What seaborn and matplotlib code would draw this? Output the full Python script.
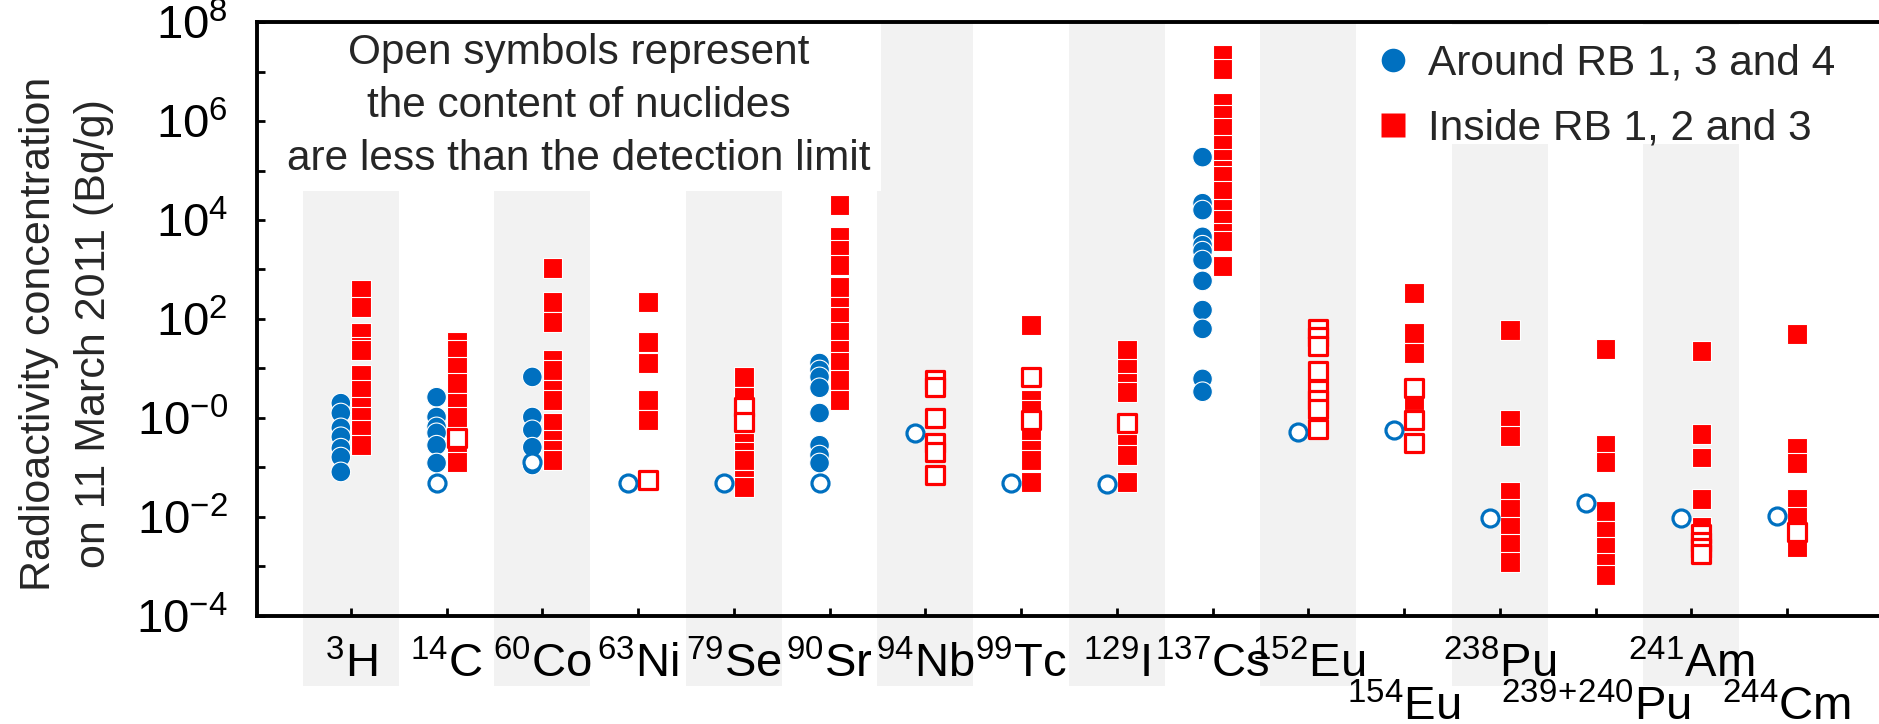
import numpy as np
import pandas as pd
import matplotlib
matplotlib.use('Agg')
import matplotlib.pyplot as plt
import matplotlib.transforms as mtransforms
from matplotlib.patches import Rectangle
from matplotlib.lines import Line2D
import seaborn as sns

sns.set_style('ticks')
plt.rcParams.update({
    'font.family': ['Liberation Sans', 'DejaVu Sans'],
    'mathtext.fontset': 'custom',
    'mathtext.rm': 'Liberation Sans',
    'mathtext.it': 'Liberation Sans',
    'mathtext.bf': 'Liberation Sans:bold',
    'axes.unicode_minus': False,
})

blue = '#0070C0'
red = '#FF0000'
band_grey = '#F2F2F2'

# nuclides (x categories)
nuclides = ['3H', '14C', '60Co', '63Ni', '79Se', '90Sr', '94Nb', '99Tc', '129I',
            '137Cs', '152Eu', '154Eu', '238Pu', '239+240Pu', '241Am', '244Cm']
mass_no = ['3', '14', '60', '63', '79', '90', '94', '99', '129', '137', '152', '154',
           '238', '239\\!+\\!240', '241', '244']
element = ['H', 'C', 'Co', 'Ni', 'Se', 'Sr', 'Nb', 'Tc', 'I', 'Cs', 'Eu', 'Eu',
           'Pu', 'Pu', 'Am', 'Cm']
lower_row = ['154Eu', '239+240Pu', '244Cm']

groups = ['Around RB 1, 3 and 4', 'Inside RB 1, 2 and 3']

# log10 of radioactivity concentration (Bq/g)
around_detected = {
    '3H': [0.30, 0.10, -0.20, -0.38, -0.61, -0.79, -1.09],
    '14C': [0.42, 0.02, -0.18, -0.30, -0.55, -0.91],
    '60Co': [0.83, 0.02, -0.24, -0.59, -0.95],
    '90Sr': [1.11, 0.97, 0.83, 0.61, 0.10, -0.55, -0.75, -0.91],
    '137Cs': [5.27, 4.34, 4.20, 3.66, 3.49, 3.37, 3.19, 2.77, 2.18, 1.80, 0.79, 0.53],
}
around_below_dl = {
    '14C': [-1.31], '60Co': [-0.89], '63Ni': [-1.31], '79Se': [-1.31],
    '90Sr': [-1.31], '94Nb': [-0.30], '99Tc': [-1.31], '129I': [-1.33],
    '152Eu': [-0.28], '154Eu': [-0.24], '238Pu': [-2.02], '239+240Pu': [-1.72],
    '241Am': [-2.02], '244Cm': [-1.98],
}
inside_detected = {
    '3H': [2.59, 2.24, 1.72, 1.43, 1.37, 0.87, 0.57, 0.22, 0.02, -0.24, -0.55],
    '14C': [1.54, 1.37, 1.03, 0.71, 0.30, 0.02, -0.51, -0.89],
    '60Co': [3.03, 2.34, 1.94, 1.17, 0.97, 0.57, 0.36, -0.10, -0.44, -0.65, -0.85],
    '63Ni': [2.34, 1.54, 1.11, 0.36, -0.04],
    '79Se': [0.83, 0.42, -0.51, -0.69, -0.85, -1.25, -1.39],
    '90Sr': [4.30, 3.66, 3.39, 3.09, 2.65, 2.24, 2.04, 1.74, 1.37, 1.13, 0.77, 0.36],
    '99Tc': [1.88, 0.36, 0.16, -0.38, -0.65, -0.85, -1.29],
    '129I': [1.37, 0.99, 0.71, 0.53, -0.53, -0.75, -1.29],
    '137Cs': [7.33, 7.05, 6.36, 6.12, 5.86, 5.52, 5.23, 5.01, 4.89, 4.59, 4.22,
              4.00, 3.74, 3.58, 3.07],
    '154Eu': [2.53, 1.72, 1.31, 0.36],
    '238Pu': [1.78, -0.04, -0.36, -1.49, -1.84, -2.20, -2.55, -2.91],
    '239+240Pu': [1.39, -0.55, -0.89, -1.88, -2.28, -2.61, -2.93, -3.17],
    '241Am': [1.35, -0.32, -0.80, -1.64, -2.20],
    '244Cm': [1.70, -0.61, -0.91, -1.64, -2.00, -2.61],
}
inside_below_dl = {
    '14C': [-0.40], '63Ni': [-1.25], '79Se': [0.22, -0.08],
    '94Nb': [0.77, 0.63, 0.00, -0.51, -0.69, -1.15],
    '99Tc': [0.83, -0.04], '129I': [-0.10],
    '152Eu': [1.80, 1.64, 1.45, 0.95, 0.57, 0.36, 0.18, -0.22],
    '154Eu': [0.61, -0.04, -0.51],
    '241Am': [-2.35, -2.50, -2.62, -2.75], '244Cm': [-2.30],
}

# build long table
rows = []
for grp, det, bdl in [(groups[0], around_detected, around_below_dl),
                      (groups[1], inside_detected, inside_below_dl)]:
    for flag, d in [(True, det), (False, bdl)]:
        for nuc, vals in d.items():
            for v in vals:
                rows.append((nuc, grp, flag, 10.0 ** v))
df = pd.DataFrame(rows, columns=['nuclide', 'group', 'detected', 'conc'])
offset = {groups[0]: -0.105, groups[1]: 0.105}
df['pos'] = df['nuclide'].map({n: i for i, n in enumerate(nuclides)}) + df['group'].map(offset)

colors = {groups[0]: blue, groups[1]: red}
markers = {groups[0]: 'o', groups[1]: 's'}

fig = plt.figure(figsize=(18.79, 7.24), dpi=100)
ax = fig.add_axes([0.1368, 0.1492, 0.8632, 0.8204])
ax.set_axisbelow(False)

# alternating grey columns (run below the x axis)
trans = mtransforms.blended_transform_factory(ax.transData, ax.transAxes)
for i in range(0, len(nuclides), 2):
    ax.add_patch(Rectangle((i - 0.5, -0.118), 1, 1.118, transform=trans,
                           facecolor=band_grey, edgecolor='none', zorder=0.1, clip_on=False))
# white boxes behind the note and the legend
ax.add_patch(Rectangle((0, 0.7155), 0.385, 0.2845, transform=ax.transAxes,
                       facecolor='white', edgecolor='none', zorder=0.2))
ax.add_patch(Rectangle((0.686, 0.795), 0.32, 0.2, transform=ax.transAxes,
                       facecolor='white', edgecolor='none', zorder=0.2, clip_on=False))

sns.scatterplot(data=df[df.detected], x='pos', y='conc', hue='group', style='group',
                palette=colors, markers=markers, s=200, edgecolor='white',
                linewidth=0.8, legend=False, ax=ax, zorder=3)
for grp in groups:
    sub = df[(~df.detected) & (df.group == grp)]
    sns.scatterplot(data=sub, x='pos', y='conc', marker=markers[grp], s=150,
                    color='white', edgecolor=colors[grp], linewidth=2.3,
                    legend=False, ax=ax, zorder=4)

ax.set_yscale('log')
ax.set_ylim(1e-4, 1e8)
ax.set_xlim(-0.98, 15.96)
exps = np.arange(-4, 9)
ax.set_yticks(10.0 ** exps)
ax.set_yticklabels([('$10^{-0}$' if e == 0 else '$10^{%d}$' % e) if e % 2 == 0 else ''
                    for e in exps])
ax.yaxis.set_minor_locator(matplotlib.ticker.NullLocator())
ax.set_xticks(range(len(nuclides)))
ax.set_xticklabels(['$^{%s}$%s' % (m, el) for m, el in zip(mass_no, element)])

ax.tick_params(direction='in', length=6, width=2, labelsize=34, colors='black')
ax.tick_params(axis='y', pad=21)
ax.tick_params(axis='x', pad=19)
for i, t in enumerate(ax.xaxis.get_major_ticks()):
    if nuclides[i] in lower_row:
        t.set_pad(50)

for side in ['left', 'top', 'bottom']:
    ax.spines[side].set_linewidth(2.8)
    ax.spines[side].set_color('black')
ax.spines['right'].set_visible(False)

ax.set_xlabel('')
ax.set_ylabel('Radioactivity concentration\non 11 March 2011 (Bq/g)', fontsize=31,
              linespacing=1.5)
ax.yaxis.set_label_coords(-0.088, 0.475)

ax.text(0.1985, 0.858, 'Open symbols represent\nthe content of nuclides\n'
        'are less than the detection limit', transform=ax.transAxes,
        ha='center', va='center', fontsize=30.5, linespacing=1.42, zorder=5)

handles = [Line2D([], [], linestyle='none', marker=markers[g], markersize=17,
                  markerfacecolor=colors[g], markeredgecolor='none') for g in groups]
ax.legend(handles, groups, loc='upper left', bbox_to_anchor=(0.690, 0.964),
          frameon=False, fontsize=30.5, handlelength=0.8, handletextpad=0.42,
          labelspacing=0.59, borderpad=0, borderaxespad=0)

fig.savefig('out.png', dpi=100)
